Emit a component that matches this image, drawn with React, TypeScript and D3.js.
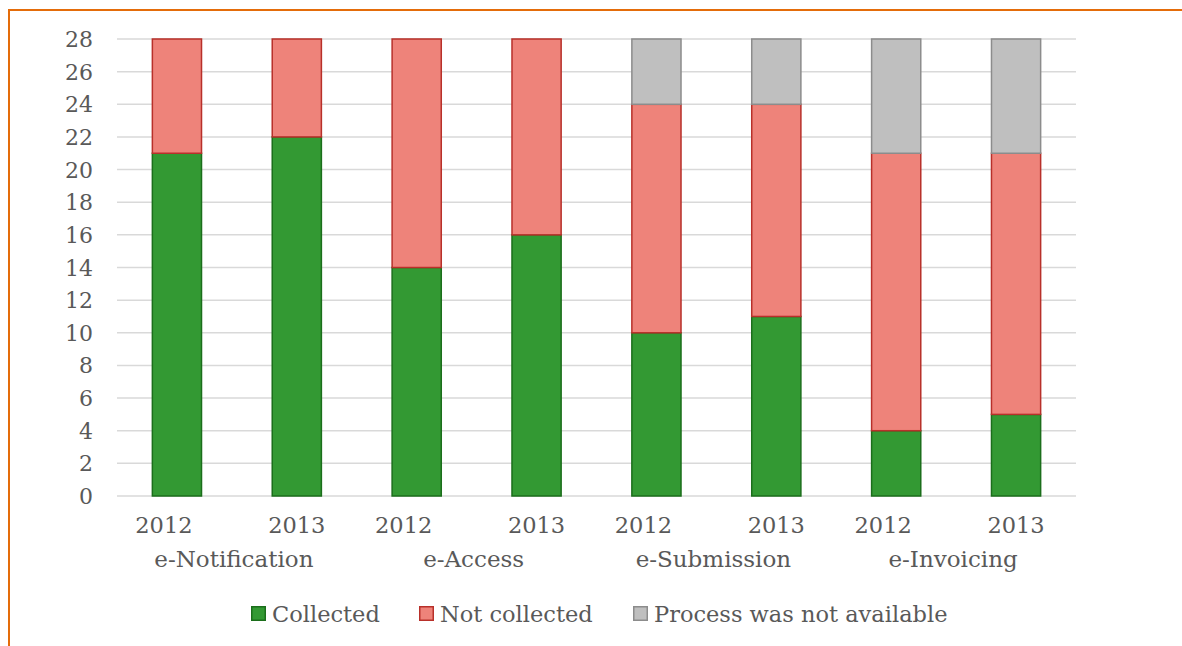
import React from "react";
import * as d3 from "d3";

// Counts per process and year
const processes = ["e-Notification", "e-Access", "e-Submission", "e-Invoicing"];
const years = ["2012", "2013"];
const collected = [21, 22, 14, 16, 10, 11, 4, 5];
const notCollected = [7, 6, 14, 12, 14, 13, 17, 16];
const notAvailable = [0, 0, 0, 0, 4, 4, 7, 7];
const yTicks = [0, 2, 4, 6, 8, 10, 12, 14, 16, 18, 20, 22, 24, 26, 28];

const seriesNames = ["Collected", "Not collected", "Process was not available"];
const fills = ["#339933", "#EE837A", "#BFBFBF"];
const strokes = ["#1B6E1B", "#B8302A", "#8C8C8C"];

const W = 1182;
const H = 646;
const plot = { left: 117, right: 1076, top: 39, bottom: 496 };
const FONT = "'DejaVu Serif', 'Liberation Serif', serif";
const TEXT = "#595959";

export default function App() {
  const bars = processes.flatMap((p, i) =>
    years.map((yr, j) => {
      const k = i * years.length + j;
      return {
        key: `${p}-${yr}`,
        process: p,
        year: yr,
        values: [collected[k], notCollected[k], notAvailable[k]],
      };
    })
  );

  const x = d3
    .scaleBand<string>()
    .domain(bars.map((b) => b.key))
    .range([plot.left, plot.right])
    .paddingInner(0.59)
    .paddingOuter(0.295);

  const xGroup = d3
    .scaleBand<string>()
    .domain(processes)
    .range([plot.left, plot.right]);

  const y = d3.scaleLinear().domain([0, 28]).range([plot.bottom, plot.top]);

  const stack = d3
    .stack<{ values: number[] }, number>()
    .keys([0, 1, 2])
    .value((d, key) => d.values[key]);
  const stacked = stack(bars);

  const legendX = [251, 419, 633];

  return (
    <svg
      width={W}
      height={H}
      style={{ position: "absolute", left: 0, top: 0, background: "#fff" }}
    >
      {/* frame */}
      <rect
        x={9}
        y={10}
        width={W + 20}
        height={H + 20}
        fill="none"
        stroke="#E46C0A"
        strokeWidth={2}
      />

      {/* gridlines */}
      {yTicks.map((t) => (
        <line
          key={t}
          x1={plot.left}
          x2={plot.right}
          y1={y(t)}
          y2={y(t)}
          stroke="#D9D9D9"
          strokeWidth={1.5}
        />
      ))}

      {/* y tick labels */}
      {yTicks.map((t) => (
        <text
          key={t}
          x={93}
          y={y(t) + 8}
          textAnchor="end"
          fontFamily={FONT}
          fontSize={22}
          fill={TEXT}
        >
          {t}
        </text>
      ))}

      {/* stacked bars */}
      {stacked.map((layer, si) =>
        layer.map((seg, bi) => {
          const h = y(seg[0]) - y(seg[1]);
          if (h <= 0) return null;
          return (
            <rect
              key={`${si}-${bi}`}
              x={x(bars[bi].key)!}
              y={y(seg[1])}
              width={x.bandwidth()}
              height={h}
              fill={fills[si]}
              stroke={strokes[si]}
              strokeWidth={1.5}
            />
          );
        })
      )}

      {/* year labels */}
      {bars.map((b) => (
        <text
          key={b.key}
          x={x(b.key)! + x.bandwidth() / 2 + (b.year === "2012" ? -13 : 0)}
          y={533}
          textAnchor="middle"
          fontFamily={FONT}
          fontSize={22.5}
          fill={TEXT}
        >
          {b.year}
        </text>
      ))}

      {/* process labels */}
      {processes.map((p) => (
        <text
          key={p}
          x={xGroup(p)! + xGroup.bandwidth() / 2 - 3}
          y={567}
          textAnchor="middle"
          fontFamily={FONT}
          fontSize={23}
          fill={TEXT}
        >
          {p}
        </text>
      ))}

      {/* legend */}
      {seriesNames.map((name, i) => (
        <g key={name} transform={`translate(${legendX[i]},606)`}>
          <rect
            x={0.75}
            y={0.75}
            width={13.5}
            height={13.5}
            fill={fills[i]}
            stroke={strokes[i]}
            strokeWidth={1.5}
          />
          <text
            x={21}
            y={15.5}
            fontFamily={FONT}
            fontSize={22.5}
            fill={TEXT}
          >
            {name}
          </text>
        </g>
      ))}
    </svg>
  );
}
